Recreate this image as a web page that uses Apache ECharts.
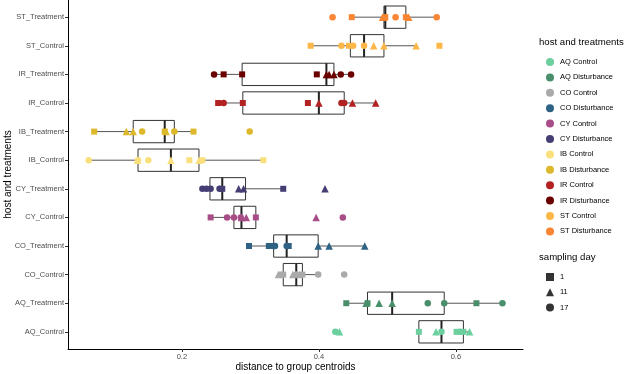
<!DOCTYPE html>
<html>
<head>
<meta charset="utf-8">
<script src="https://cdn.jsdelivr.net/npm/echarts@6/dist/echarts.min.js"></script>
<style>
  html, body { margin: 0; padding: 0; background: #fff; }
  #chart { width: 625px; height: 374px; }
</style>
</head>
<body>
<div id="chart"></div>
<script>
// groups from bottom to top
const categories = [
  'AQ_Control', 'AQ_Treatment', 'CO_Control', 'CO_Treatment',
  'CY_Control', 'CY_Treatment', 'IB_Control', 'IB_Treatment',
  'IR_Control', 'IR_Treatment', 'ST_Control', 'ST_Treatment'
];
const legendNames = [
  'AQ Control', 'AQ Disturbance', 'CO Control', 'CO Disturbance',
  'CY Control', 'CY Disturbance', 'IB Control', 'IB Disturbance',
  'IR Control', 'IR Disturbance', 'ST Control', 'ST Disturbance'
];
const groupColors = [
  '#6ccf9e', '#4a8f6c', '#aaaaaa', '#2e6385',
  '#a84d87', '#453e75', '#f9e07c', '#ddb82a',
  '#b22222', '#6b0000', '#fdb748', '#fb8532'
];

// distance to centroid for each sample, same order as categories
const distances = [
  [0.424, 0.430, 0.546, 0.571, 0.579, 0.601, 0.606, 0.611, 0.620],
  [0.440, 0.469, 0.471, 0.488, 0.507, 0.559, 0.583, 0.630, 0.668],
  [0.341, 0.345, 0.348, 0.362, 0.367, 0.372, 0.376, 0.399, 0.437],
  [0.298, 0.327, 0.334, 0.336, 0.353, 0.356, 0.399, 0.415, 0.467],
  [0.242, 0.266, 0.276, 0.286, 0.287, 0.294, 0.308, 0.396, 0.435],
  [0.230, 0.236, 0.242, 0.255, 0.259, 0.283, 0.290, 0.348, 0.409],
  [0.064, 0.135, 0.136, 0.151, 0.184, 0.211, 0.225, 0.230, 0.319],
  [0.072, 0.119, 0.129, 0.142, 0.175, 0.177, 0.189, 0.217, 0.299],
  [0.253, 0.261, 0.289, 0.384, 0.400, 0.433, 0.437, 0.449, 0.483],
  [0.247, 0.261, 0.288, 0.397, 0.411, 0.415, 0.422, 0.432, 0.447],
  [0.388, 0.433, 0.444, 0.450, 0.466, 0.480, 0.495, 0.542, 0.576],
  [0.420, 0.448, 0.493, 0.495, 0.497, 0.512, 0.527, 0.531, 0.572]
];
// sampling day of each sample above
const days = [
  [17, 11, 1, 11, 17, 1, 17, 1, 11],
  [1, 11, 1, 11, 11, 17, 17, 1, 17],
  [11, 1, 1, 11, 17, 11, 1, 17, 17],
  [1, 1, 17, 17, 17, 1, 11, 11, 11],
  [1, 17, 17, 17, 11, 11, 1, 11, 17],
  [17, 17, 17, 17, 1, 11, 11, 1, 11],
  [17, 11, 17, 17, 11, 1, 11, 1, 1],
  [1, 11, 11, 17, 1, 11, 17, 1, 17],
  [1, 17, 1, 1, 11, 17, 17, 11, 11],
  [17, 1, 1, 1, 11, 11, 11, 17, 17],
  [1, 17, 1, 17, 17, 11, 11, 11, 1],
  [17, 1, 11, 11, 1, 17, 1, 11, 17]
];

// boxplot stats
const whiskerLow  = [0.546, 0.440, 0.341, 0.298, 0.242, 0.230, 0.064, 0.072, 0.253, 0.247, 0.388, 0.448];
const q1          = [0.546, 0.471, 0.348, 0.334, 0.276, 0.241, 0.136, 0.129, 0.289, 0.288, 0.446, 0.495];
const median      = [0.579, 0.507, 0.367, 0.353, 0.287, 0.259, 0.184, 0.175, 0.400, 0.411, 0.466, 0.497];
const q3          = [0.611, 0.583, 0.376, 0.399, 0.308, 0.293, 0.225, 0.189, 0.437, 0.422, 0.495, 0.527];
const whiskerHigh = [0.620, 0.668, 0.399, 0.467, 0.308, 0.348, 0.319, 0.217, 0.483, 0.447, 0.542, 0.572];

const xTicks = [0.2, 0.4, 0.6];
const dayLevels = ['1', '11', '17'];
const daySymbols = { 1: 'rect', 11: 'triangle', 17: 'circle' };
const daySizes = { 1: 6, 11: 7.5, 17: 6.5 };

const chart = echarts.init(document.getElementById('chart'));

const yIndex = categories.map((c, i) => i);

const boxSeries = {
  type: 'custom',
  name: 'box',
  z: 1,
  silent: true,
  data: categories.map((c, i) => [i, whiskerLow[i], q1[i], median[i], q3[i], whiskerHigh[i]]),
  encode: { x: [1, 2, 3, 4, 5], y: 0 },
  renderItem: (params, api) => {
    const y = api.value(0);
    const pLow = api.coord([api.value(1), y]);
    const pQ1 = api.coord([api.value(2), y]);
    const pMed = api.coord([api.value(3), y]);
    const pQ3 = api.coord([api.value(4), y]);
    const pHigh = api.coord([api.value(5), y]);
    const h = api.size([0, 1])[1] * 0.78;
    const top = pMed[1] - h / 2;
    return {
      type: 'group',
      children: [
        {
          type: 'line',
          shape: { x1: pLow[0], y1: pLow[1], x2: pQ1[0], y2: pQ1[1] },
          style: { stroke: '#555', lineWidth: 1 }
        },
        {
          type: 'line',
          shape: { x1: pQ3[0], y1: pQ3[1], x2: pHigh[0], y2: pHigh[1] },
          style: { stroke: '#555', lineWidth: 1 }
        },
        {
          type: 'rect',
          shape: { x: pQ1[0], y: top, width: pQ3[0] - pQ1[0], height: h },
          style: { fill: 'none', stroke: '#333', lineWidth: 1 }
        },
        {
          type: 'line',
          shape: { x1: pMed[0], y1: top, x2: pMed[0], y2: top + h },
          style: { stroke: '#222', lineWidth: 2 }
        }
      ]
    };
  }
};

const pointSeries = categories.map((c, i) => ({
  type: 'scatter',
  name: legendNames[i],
  z: 3,
  itemStyle: { color: groupColors[i], opacity: 1 },
  data: distances[i].map((v, j) => ({
    value: [v, i],
    symbol: daySymbols[days[i][j]],
    symbolSize: daySizes[days[i][j]]
  }))
}));

const daySeries = dayLevels.map((d) => ({
  type: 'scatter',
  name: d,
  symbol: daySymbols[d],
  itemStyle: { color: '#000' },
  data: []
}));

const option = {
  animation: false,
  grid: { left: 68, right: 102, top: 0, bottom: 25, containLabel: false, outerBoundsMode: 'none' },
  xAxis: {
    type: 'value',
    min: 0.0338,
    max: 0.698,
    name: 'distance to group centroids',
    nameLocation: 'middle',
    nameGap: 13,
    nameMoveOverlap: false,
    nameTextStyle: { color: '#000', fontSize: 10, fontFamily: 'Liberation Sans' },
    splitLine: { show: false },
    axisLine: { onZero: false, lineStyle: { color: '#000', width: 1 } },
    axisTick: { show: true, length: 3, lineStyle: { color: '#333' }, customValues: xTicks },
    axisLabel: {
      color: '#4d4d4d',
      fontSize: 7.5,
      fontFamily: 'Liberation Sans',
      margin: 4,
      customValues: xTicks,
      formatter: (v) => v.toFixed(1)
    }
  },
  yAxis: {
    type: 'value',
    min: -0.6,
    max: 11.6,
    name: 'host and treatments',
    nameLocation: 'middle',
    nameGap: 55,
    nameMoveOverlap: false,
    nameRotate: 90,
    nameTextStyle: { color: '#000', fontSize: 10, fontFamily: 'Liberation Sans' },
    splitLine: { show: false },
    axisLine: { show: true, onZero: false, lineStyle: { color: '#000', width: 1 } },
    axisTick: { show: true, length: 3, lineStyle: { color: '#333' }, customValues: yIndex },
    axisLabel: {
      color: '#4d4d4d',
      fontSize: 7.5,
      fontFamily: 'Liberation Sans',
      margin: 4,
      customValues: yIndex,
      formatter: (v) => categories[Math.round(v)]
    }
  },
  legend: [
    {
      orient: 'vertical',
      left: 541,
      top: 53,
      itemWidth: 8,
      itemHeight: 8,
      itemGap: 7.4,
      icon: 'circle',
      selectedMode: false,
      textStyle: { color: '#000', fontSize: 7.5, fontFamily: 'Liberation Sans', padding: [0, 0, 0, 1] },
      data: legendNames
    },
    {
      orient: 'vertical',
      left: 541,
      top: 268,
      itemWidth: 8,
      itemHeight: 8,
      itemGap: 7.3,
      selectedMode: false,
      textStyle: { color: '#000', fontSize: 7.5, fontFamily: 'Liberation Sans', padding: [0, 0, 0, 1] },
      data: dayLevels.map((d) => ({ name: d, icon: daySymbols[d] }))
    }
  ],
  graphic: [
    {
      type: 'text',
      left: 539,
      top: 37,
      style: { text: 'host and treatments', fill: '#000', fontSize: 9.6, fontFamily: 'Liberation Sans' }
    },
    {
      type: 'text',
      left: 539,
      top: 252,
      style: { text: 'sampling day', fill: '#000', fontSize: 9.6, fontFamily: 'Liberation Sans' }
    }
  ],
  series: [boxSeries, ...pointSeries, ...daySeries]
};

chart.setOption(option);
</script>
</body>
</html>
